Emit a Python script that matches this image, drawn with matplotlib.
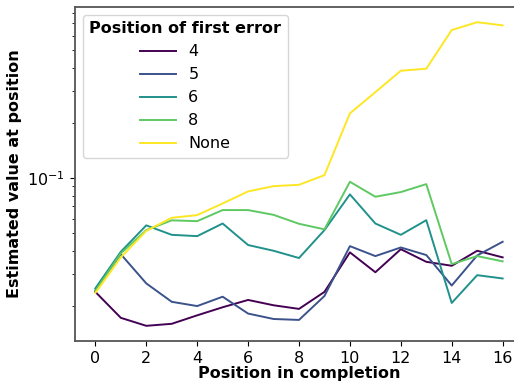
import numpy as np
import matplotlib
matplotlib.use('Agg')
import matplotlib.pyplot as plt

positions = np.arange(17)

# estimated value per completion position, split by where the first error happened
err_4 = [0.0239, 0.01725, 0.0156, 0.0160, 0.0178, 0.0197, 0.0216, 0.0202, 0.0193,
         0.0239, 0.0393, 0.0306, 0.0409, 0.0349, 0.0332, 0.0401, 0.0369]
err_5 = [0.0244, 0.0384, 0.0266, 0.0211, 0.0200, 0.0225, 0.0182, 0.0170, 0.0168,
         0.0227, 0.0425, 0.0375, 0.0418, 0.0380, 0.0259, 0.0378, 0.0449]
err_6 = [0.0250, 0.0396, 0.0552, 0.0490, 0.0482, 0.0565, 0.0431, 0.0401, 0.0366,
         0.0520, 0.0815, 0.0565, 0.0490, 0.0589, 0.0208, 0.0295, 0.0283]
err_8 = [0.0242, 0.0388, 0.0520, 0.0588, 0.0582, 0.0669, 0.0669, 0.0630, 0.0563,
         0.0525, 0.0955, 0.0791, 0.0839, 0.0927, 0.0339, 0.0375, 0.0351]
err_none = [0.0236, 0.0369, 0.0515, 0.0607, 0.0628, 0.0727, 0.0846, 0.0904, 0.0919,
            0.1038, 0.2258, 0.295, 0.386, 0.396, 0.644, 0.711, 0.683]

labels = ['4', '5', '6', '8', 'None']
series = [err_4, err_5, err_6, err_8, err_none]
colors = plt.cm.viridis(np.linspace(0, 1, len(series)))

fs = 11.5

fig = plt.figure(figsize=(5.14, 3.83), dpi=100)
ax = fig.add_axes([75 / 514, 42 / 383, 448 / 514, 334 / 383])

for vals, lab, c in zip(series, labels, colors):
    ax.plot(positions, vals, color=c, lw=1.4, label=lab)

ax.set_yscale('log')
ax.set_xticks(np.arange(0, 17, 2))
ax.tick_params(labelsize=fs)
ax.set_xlabel('Position in completion', fontsize=fs, fontweight='bold', labelpad=0.5)
ax.set_ylabel('Estimated value at position', fontsize=fs, fontweight='bold')
for sp in ax.spines.values():
    sp.set_color('#555555')
    sp.set_linewidth(1.3)

leg = ax.legend(title='Position of first error', loc='upper left', fontsize=fs,
                title_fontproperties={'weight': 'bold', 'size': fs}, handlelength=2.2)

fig.savefig('out.png', dpi=100)
